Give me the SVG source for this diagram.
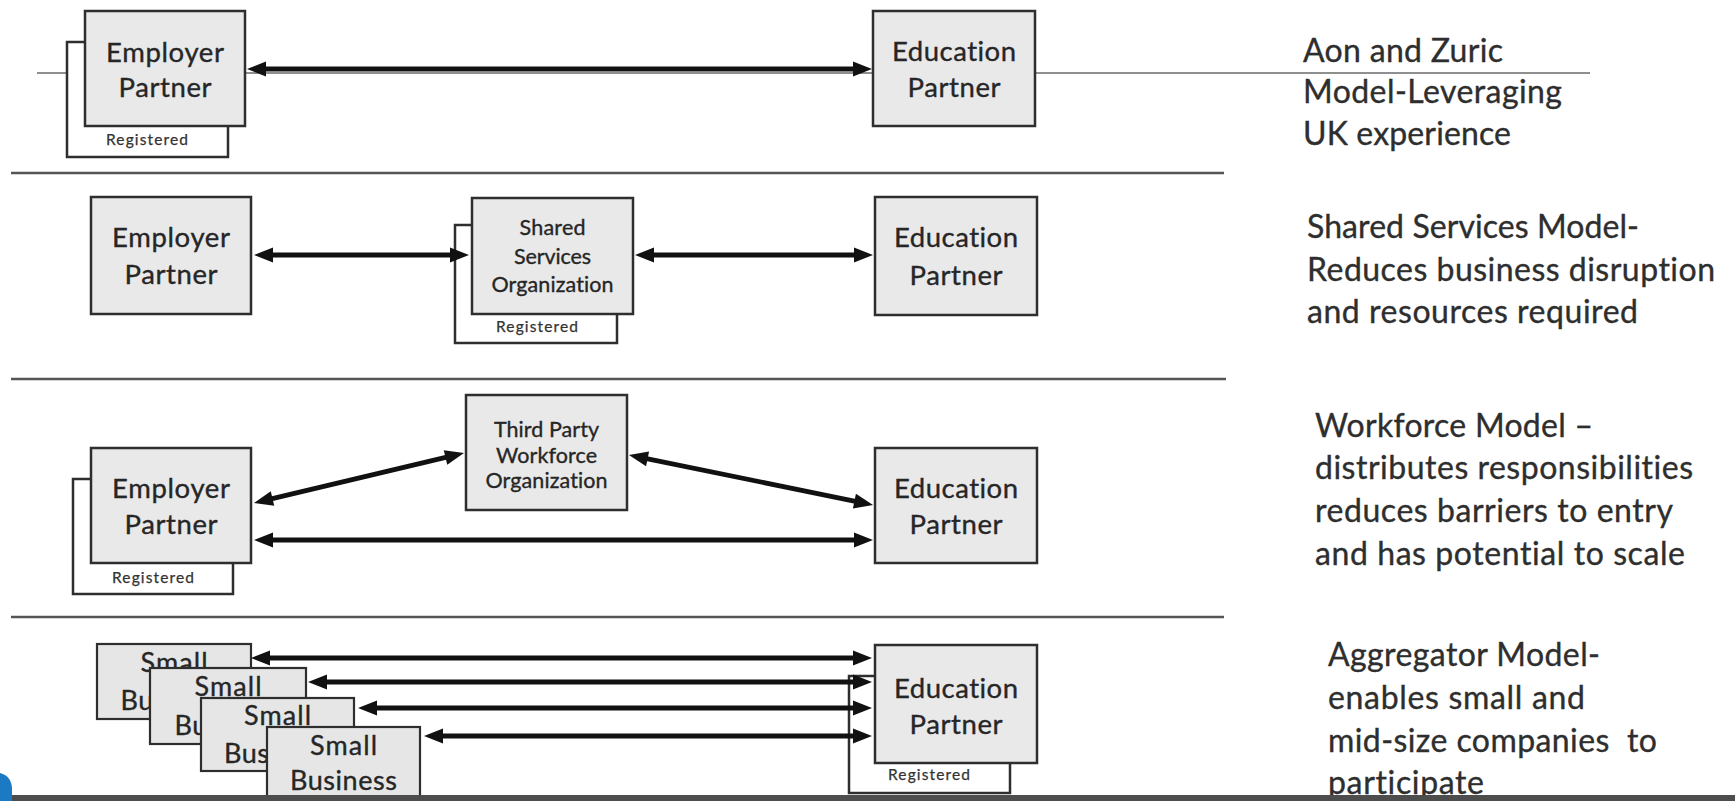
<svg xmlns="http://www.w3.org/2000/svg" width="1735" height="801" viewBox="0 0 1735 801">
<defs>
<style>
.sep{stroke:#555;stroke-width:2.5;fill:none}
.thin{stroke:#6a6a6a;stroke-width:1.6;fill:none}
.box{fill:#e9e9e9;stroke:#2e2e2e;stroke-width:2.5}
.reg{fill:#fff;stroke:#2e2e2e;stroke-width:2.5}
.sb{fill:#e6e6e6;stroke:#2e2e2e;stroke-width:2.2}
.conn{stroke:#111;stroke-width:4.8;fill:none;marker-start:url(#ah);marker-end:url(#ah)}
text{font-family:Lato,"Open Sans","Liberation Sans",sans-serif;font-variant-ligatures:none;fill:#262626;stroke:#262626;stroke-width:0.35}
.nt{font-size:27.5px;text-anchor:middle}
.st{font-size:21.5px;text-anchor:middle}
.rt{font-size:15.5px;text-anchor:middle;fill:#333;stroke:#333;stroke-width:0.25}
.sbt{font-size:27px;text-anchor:middle}
.side{font-size:32px;fill:#2e2e2e;stroke:#2e2e2e}
</style>
<marker id="ah" markerUnits="userSpaceOnUse" markerWidth="20" markerHeight="17" refX="11" refY="8" orient="auto-start-reverse" overflow="visible"><path d="M0,0.5 L19,8 L0,15.5 Z" fill="#111"/></marker>
</defs>
<rect x="0" y="0" width="1735" height="801" fill="#fff"/>
<g id="lines">
<line class="thin" x1="37" y1="73" x2="1590" y2="73"/>
<line class="sep" x1="11" y1="173" x2="1224" y2="173"/>
<line class="sep" x1="11" y1="379" x2="1226" y2="379"/>
<line class="sep" x1="11" y1="617" x2="1224" y2="617"/>
</g>
<g id="emp1">
<rect class="reg" x="67" y="42" width="161" height="115"/>
<text class="rt" x="147" y="145" textLength="82">Registered</text>
<rect class="box" x="85" y="11" width="160" height="115"/>
<text class="nt" x="165" y="62" textLength="118">Employer</text>
<text class="nt" x="165" y="97" textLength="93">Partner</text>
</g>
<g id="edu1">
<rect class="box" x="873" y="11" width="162" height="115"/>
<text class="nt" x="954" y="61" textLength="124">Education</text>
<text class="nt" x="954" y="97" textLength="93">Partner</text>
</g>
<g id="emp2">
<rect class="box" x="91" y="197" width="160" height="117"/>
<text class="nt" x="171" y="247" textLength="118">Employer</text>
<text class="nt" x="171" y="284" textLength="93">Partner</text>
</g>
<g id="sso">
<rect class="reg" x="455" y="225" width="162" height="118"/>
<text class="rt" x="537" y="332" textLength="82">Registered</text>
<rect class="box" x="472" y="198" width="161" height="116"/>
<text class="st" x="552.5" y="235" textLength="66">Shared</text>
<text class="st" x="552.5" y="264" textLength="77">Services</text>
<text class="st" x="552.5" y="292" textLength="122">Organization</text>
</g>
<g id="edu2">
<rect class="box" x="875" y="197" width="162" height="118"/>
<text class="nt" x="956" y="247" textLength="124">Education</text>
<text class="nt" x="956" y="285" textLength="93">Partner</text>
</g>
<g id="tpw">
<rect class="box" x="466" y="395" width="161" height="115"/>
<text class="st" x="546.5" y="437" textLength="105">Third Party</text>
<text class="st" x="546.5" y="463" textLength="101">Workforce</text>
<text class="st" x="546.5" y="488" textLength="122">Organization</text>
</g>
<g id="emp3">
<rect class="reg" x="73" y="479" width="160" height="115"/>
<text class="rt" x="153" y="583" textLength="82">Registered</text>
<rect class="box" x="91" y="448" width="160" height="115"/>
<text class="nt" x="171" y="498" textLength="118">Employer</text>
<text class="nt" x="171" y="534" textLength="93">Partner</text>
</g>
<g id="edu3">
<rect class="box" x="875" y="448" width="162" height="115"/>
<text class="nt" x="956" y="498" textLength="124">Education</text>
<text class="nt" x="956" y="534" textLength="93">Partner</text>
</g>
<g id="sb1">
<rect class="sb" x="97" y="644" width="154" height="75"/>
<text class="sbt" x="174" y="672" textLength="67">Small</text>
<text class="sbt" x="174" y="710" textLength="107">Business</text>
</g>
<g id="sb2">
<rect class="sb" x="150" y="668" width="156" height="76"/>
<text class="sbt" x="228" y="696" textLength="67">Small</text>
<text class="sbt" x="228" y="735" textLength="107">Business</text>
</g>
<g id="sb3">
<rect class="sb" x="201" y="698" width="153" height="73"/>
<text class="sbt" x="277.5" y="725" textLength="67">Small</text>
<text class="sbt" x="277.5" y="763" textLength="107">Business</text>
</g>
<g id="sb4">
<rect class="sb" x="267" y="727" width="153" height="76"/>
<text class="sbt" x="343.5" y="755" textLength="67">Small</text>
<text class="sbt" x="343.5" y="790" textLength="107">Business</text>
</g>
<g id="edu4">
<rect class="reg" x="849" y="676" width="161" height="117"/>
<text class="rt" x="929" y="780" textLength="82">Registered</text>
<rect class="box" x="875" y="645" width="162" height="118"/>
<text class="nt" x="956" y="698" textLength="124">Education</text>
<text class="nt" x="956" y="734" textLength="93">Partner</text>
</g>
<g id="connectors">
<line class="conn" x1="255" y1="69" x2="864" y2="69"/>
<line class="conn" x1="262" y1="255" x2="461" y2="255"/>
<line class="conn" x1="643" y1="255" x2="865" y2="255"/>
<line class="conn" x1="261.8" y1="501.1" x2="456.2" y2="454.9"/>
<line class="conn" x1="636.8" y1="456.6" x2="865.2" y2="503.4"/>
<line class="conn" x1="262" y1="540" x2="865" y2="540"/>
<line class="conn" x1="259" y1="658" x2="864" y2="658"/>
<line class="conn" x1="316" y1="682" x2="864" y2="682"/>
<line class="conn" x1="366" y1="708" x2="864" y2="708"/>
<line class="conn" x1="432" y1="736" x2="864" y2="736"/>
</g>
<g id="notes">
<text class="side" x="1303" y="62" textLength="200">Aon and Zuric</text>
<text class="side" x="1303" y="103" textLength="259">Model-Leveraging</text>
<text class="side" x="1303" y="145" textLength="208">UK experience</text>
<text class="side" x="1307" y="238" textLength="332">Shared Services Model-</text>
<text class="side" x="1307" y="281" textLength="408">Reduces business disruption</text>
<text class="side" x="1307" y="323" textLength="331">and resources required</text>
<text class="side" x="1315" y="437" textLength="278">Workforce Model –</text>
<text class="side" x="1315" y="479" textLength="378">distributes responsibilities</text>
<text class="side" x="1315" y="522" textLength="358">reduces barriers to entry</text>
<text class="side" x="1315" y="565" textLength="370">and has potential to scale</text>
<text class="side" x="1328" y="666" textLength="272">Aggregator Model-</text>
<text class="side" x="1328" y="709" textLength="257">enables small and</text>
<text class="side" x="1328" y="752" textLength="329" xml:space="preserve">mid-size companies  to</text>
<text class="side" x="1328" y="794" textLength="156">participate</text>
</g>
<g id="frame">
<rect x="0" y="795" width="1735" height="6" fill="#4d4d4d"/>
<path d="M0,773 C8,775 12,781 12,789 L12,801 L0,801 Z" fill="#1b7ac2"/>
</g>
</svg>
